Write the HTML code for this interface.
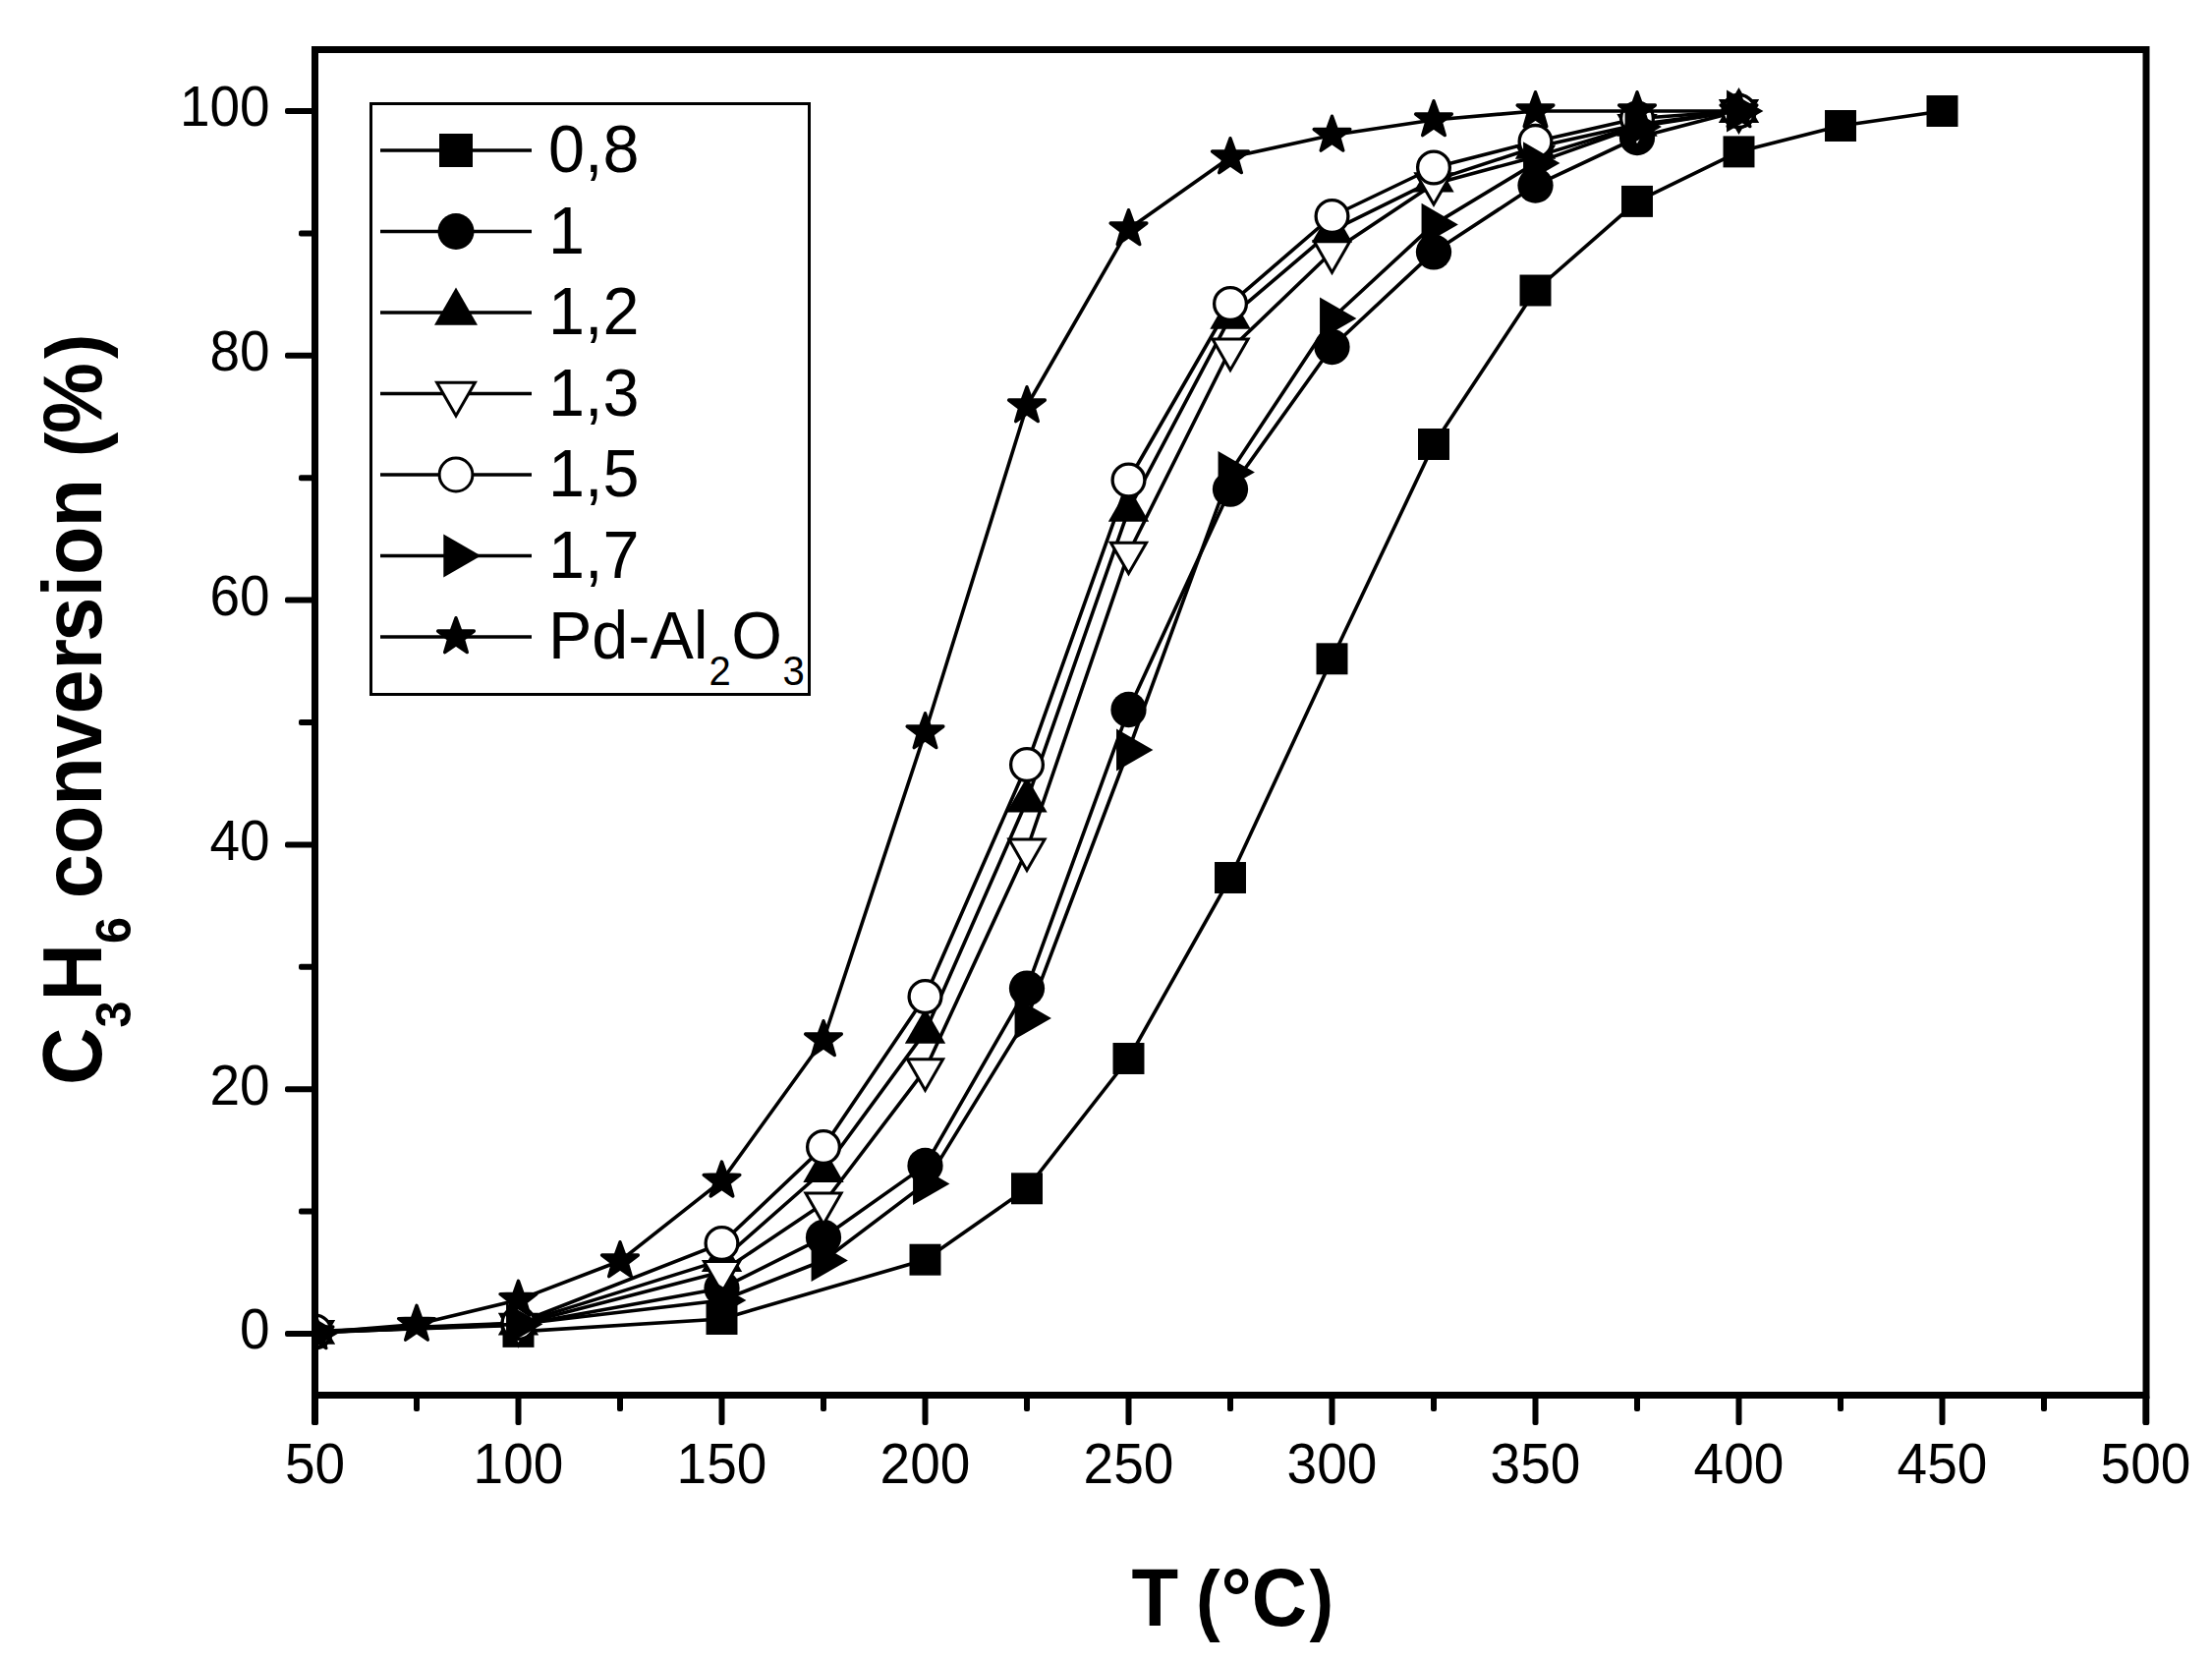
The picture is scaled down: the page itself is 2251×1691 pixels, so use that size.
<!DOCTYPE html>
<html lang="en"><head><meta charset="utf-8"><title>C3H6 conversion vs T</title>
<style>html,body{margin:0;padding:0;background:#fff}body{width:2251px;height:1691px;overflow:hidden}svg{display:block}text{font-family:"Liberation Sans",Arial,Helvetica,sans-serif;fill:#000}</style></head><body>
<svg width="2251" height="1691" viewBox="0 0 2251 1691">
<rect width="2251" height="1691" fill="#fff"/>
<defs><clipPath id="plot"><rect x="320.5" y="50.5" width="1863.5" height="1369.0"/></clipPath></defs>
<g clip-path="url(#plot)">
<polyline points="527.5,1354.9 734.5,1342 941.5,1281.7 1045,1209.3 1148.5,1077 1252,893 1355.5,670.3 1459,452 1562.5,295.5 1666,204.9 1769.5,154.4 1873,128 1976.5,113" fill="none" stroke="#000" stroke-width="3.6" stroke-linejoin="round"/>
<rect x="511.52" y="1338.92" width="31.96" height="31.96" fill="#000"/>
<rect x="718.52" y="1326.02" width="31.96" height="31.96" fill="#000"/>
<rect x="925.52" y="1265.72" width="31.96" height="31.96" fill="#000"/>
<rect x="1029.02" y="1193.32" width="31.96" height="31.96" fill="#000"/>
<rect x="1132.52" y="1061.02" width="31.96" height="31.96" fill="#000"/>
<rect x="1236.02" y="877.02" width="31.96" height="31.96" fill="#000"/>
<rect x="1339.52" y="654.32" width="31.96" height="31.96" fill="#000"/>
<rect x="1443.02" y="436.02" width="31.96" height="31.96" fill="#000"/>
<rect x="1546.52" y="279.52" width="31.96" height="31.96" fill="#000"/>
<rect x="1650.02" y="188.92" width="31.96" height="31.96" fill="#000"/>
<rect x="1753.52" y="138.42" width="31.96" height="31.96" fill="#000"/>
<rect x="1857.02" y="112.02" width="31.96" height="31.96" fill="#000"/>
<rect x="1960.52" y="97.02" width="31.96" height="31.96" fill="#000"/>
<polyline points="320.5,1355.5 527.5,1348.3 734.5,1310.7 838,1259 941.5,1185.9 1045,1005.6 1148.5,722 1252,497.7 1355.5,353 1459,256.4 1562.5,188.6 1666,140 1769.5,113" fill="none" stroke="#000" stroke-width="3.6" stroke-linejoin="round"/>
<circle cx="320.5" cy="1355.5" r="18.13" fill="#000"/>
<circle cx="527.5" cy="1348.3" r="18.13" fill="#000"/>
<circle cx="734.5" cy="1310.7" r="18.13" fill="#000"/>
<circle cx="838" cy="1259" r="18.13" fill="#000"/>
<circle cx="941.5" cy="1185.9" r="18.13" fill="#000"/>
<circle cx="1045" cy="1005.6" r="18.13" fill="#000"/>
<circle cx="1148.5" cy="722" r="18.13" fill="#000"/>
<circle cx="1252" cy="497.7" r="18.13" fill="#000"/>
<circle cx="1355.5" cy="353" r="18.13" fill="#000"/>
<circle cx="1459" cy="256.4" r="18.13" fill="#000"/>
<circle cx="1562.5" cy="188.6" r="18.13" fill="#000"/>
<circle cx="1666" cy="140" r="18.13" fill="#000"/>
<circle cx="1769.5" cy="113" r="18.13" fill="#000"/>
<polyline points="320.5,1355.7 527.5,1346.6 734.5,1282.1 838,1191 941.5,1049.9 1045,814.5 1148.5,518.7 1252,322.7 1355.5,234.7 1459,183.6 1562.5,149.7 1666,126.7 1769.5,113" fill="none" stroke="#000" stroke-width="3.6" stroke-linejoin="round"/>
<polygon points="320.5,1331.82 341.18,1367.64 299.82,1367.64" fill="#000"/>
<polygon points="527.5,1322.72 548.18,1358.54 506.82,1358.54" fill="#000"/>
<polygon points="734.5,1258.22 755.18,1294.04 713.82,1294.04" fill="#000"/>
<polygon points="838,1167.12 858.68,1202.94 817.32,1202.94" fill="#000"/>
<polygon points="941.5,1026.02 962.18,1061.84 920.82,1061.84" fill="#000"/>
<polygon points="1045,790.62 1065.68,826.44 1024.32,826.44" fill="#000"/>
<polygon points="1148.5,494.82 1169.18,530.64 1127.82,530.64" fill="#000"/>
<polygon points="1252,298.82 1272.68,334.64 1231.32,334.64" fill="#000"/>
<polygon points="1355.5,210.82 1376.18,246.64 1334.82,246.64" fill="#000"/>
<polygon points="1459,159.72 1479.68,195.54 1438.32,195.54" fill="#000"/>
<polygon points="1562.5,125.82 1583.18,161.64 1541.82,161.64" fill="#000"/>
<polygon points="1666,102.82 1686.68,138.64 1645.32,138.64" fill="#000"/>
<polygon points="1769.5,89.12 1790.18,124.94 1748.82,124.94" fill="#000"/>
<polyline points="320.5,1355 527.5,1347.8 734.5,1294 838,1224.5 941.5,1088.3 1045,864.5 1148.5,562.7 1252,355.5 1355.5,256.3 1459,187.2 1562.5,159.4 1666,128 1769.5,113" fill="none" stroke="#000" stroke-width="3.6" stroke-linejoin="round"/>
<polygon points="320.5,1375.88 338.58,1344.56 302.42,1344.56" fill="#fff" stroke="#000" stroke-width="3.0" stroke-linejoin="miter"/>
<polygon points="527.5,1368.68 545.58,1337.36 509.42,1337.36" fill="#fff" stroke="#000" stroke-width="3.0" stroke-linejoin="miter"/>
<polygon points="734.5,1314.88 752.58,1283.56 716.42,1283.56" fill="#fff" stroke="#000" stroke-width="3.0" stroke-linejoin="miter"/>
<polygon points="838,1245.38 856.08,1214.06 819.92,1214.06" fill="#fff" stroke="#000" stroke-width="3.0" stroke-linejoin="miter"/>
<polygon points="941.5,1109.18 959.58,1077.86 923.42,1077.86" fill="#fff" stroke="#000" stroke-width="3.0" stroke-linejoin="miter"/>
<polygon points="1045,885.38 1063.08,854.06 1026.92,854.06" fill="#fff" stroke="#000" stroke-width="3.0" stroke-linejoin="miter"/>
<polygon points="1148.5,583.58 1166.58,552.26 1130.42,552.26" fill="#fff" stroke="#000" stroke-width="3.0" stroke-linejoin="miter"/>
<polygon points="1252,376.38 1270.08,345.06 1233.92,345.06" fill="#fff" stroke="#000" stroke-width="3.0" stroke-linejoin="miter"/>
<polygon points="1355.5,277.18 1373.58,245.86 1337.42,245.86" fill="#fff" stroke="#000" stroke-width="3.0" stroke-linejoin="miter"/>
<polygon points="1459,208.08 1477.08,176.76 1440.92,176.76" fill="#fff" stroke="#000" stroke-width="3.0" stroke-linejoin="miter"/>
<polygon points="1562.5,180.28 1580.58,148.96 1544.42,148.96" fill="#fff" stroke="#000" stroke-width="3.0" stroke-linejoin="miter"/>
<polygon points="1666,148.88 1684.08,117.56 1647.92,117.56" fill="#fff" stroke="#000" stroke-width="3.0" stroke-linejoin="miter"/>
<polygon points="1769.5,133.88 1787.58,102.56 1751.42,102.56" fill="#fff" stroke="#000" stroke-width="3.0" stroke-linejoin="miter"/>
<polyline points="320.5,1354.5 527.5,1346 734.5,1265 838,1167 941.5,1014 1045,778 1148.5,488.5 1252,309 1355.5,220 1459,170.5 1562.5,143.9 1666,120.5 1769.5,113" fill="none" stroke="#000" stroke-width="3.6" stroke-linejoin="round"/>
<circle cx="320.5" cy="1354.5" r="16.38" fill="#fff" stroke="#000" stroke-width="3.3"/>
<circle cx="527.5" cy="1346" r="16.38" fill="#fff" stroke="#000" stroke-width="3.3"/>
<circle cx="734.5" cy="1265" r="16.38" fill="#fff" stroke="#000" stroke-width="3.3"/>
<circle cx="838" cy="1167" r="16.38" fill="#fff" stroke="#000" stroke-width="3.3"/>
<circle cx="941.5" cy="1014" r="16.38" fill="#fff" stroke="#000" stroke-width="3.3"/>
<circle cx="1045" cy="778" r="16.38" fill="#fff" stroke="#000" stroke-width="3.3"/>
<circle cx="1148.5" cy="488.5" r="16.38" fill="#fff" stroke="#000" stroke-width="3.3"/>
<circle cx="1252" cy="309" r="16.38" fill="#fff" stroke="#000" stroke-width="3.3"/>
<circle cx="1355.5" cy="220" r="16.38" fill="#fff" stroke="#000" stroke-width="3.3"/>
<circle cx="1459" cy="170.5" r="16.38" fill="#fff" stroke="#000" stroke-width="3.3"/>
<circle cx="1562.5" cy="143.9" r="16.38" fill="#fff" stroke="#000" stroke-width="3.3"/>
<circle cx="1666" cy="120.5" r="16.38" fill="#fff" stroke="#000" stroke-width="3.3"/>
<circle cx="1769.5" cy="113" r="16.38" fill="#fff" stroke="#000" stroke-width="3.3"/>
<polyline points="320.5,1356 527.5,1347.3 734.5,1323 838,1282.5 941.5,1204.4 1045,1036 1148.5,763 1252,480.5 1355.5,324 1459,228.4 1562.5,165.9 1666,129 1769.5,113" fill="none" stroke="#000" stroke-width="3.6" stroke-linejoin="round"/>
<polygon points="345.4,1356 308.05,1334.44 308.05,1377.56" fill="#000"/>
<polygon points="552.4,1347.3 515.05,1325.74 515.05,1368.86" fill="#000"/>
<polygon points="759.4,1323 722.05,1301.44 722.05,1344.56" fill="#000"/>
<polygon points="862.9,1282.5 825.55,1260.94 825.55,1304.06" fill="#000"/>
<polygon points="966.4,1204.4 929.05,1182.84 929.05,1225.96" fill="#000"/>
<polygon points="1069.9,1036 1032.55,1014.44 1032.55,1057.56" fill="#000"/>
<polygon points="1173.4,763 1136.05,741.44 1136.05,784.56" fill="#000"/>
<polygon points="1276.9,480.5 1239.55,458.94 1239.55,502.06" fill="#000"/>
<polygon points="1380.4,324 1343.05,302.44 1343.05,345.56" fill="#000"/>
<polygon points="1483.9,228.4 1446.55,206.84 1446.55,249.96" fill="#000"/>
<polygon points="1587.4,165.9 1550.05,144.34 1550.05,187.46" fill="#000"/>
<polygon points="1690.9,129 1653.55,107.44 1653.55,150.56" fill="#000"/>
<polygon points="1794.4,113 1757.05,91.44 1757.05,134.56" fill="#000"/>
<polyline points="320.5,1356 424,1347.6 527.5,1322.6 631,1283 734.5,1201.4 838,1058 941.5,745 1045,413 1148.5,233 1252,160 1355.5,137.5 1459,122 1562.5,113 1666,113 1769.5,113" fill="none" stroke="#000" stroke-width="3.6" stroke-linejoin="round"/>
<polygon points="320.5,1336.7 325.11,1349.65 338.86,1350.04 327.97,1358.43 331.84,1371.61 320.5,1363.85 309.16,1371.61 313.03,1358.43 302.14,1350.04 315.89,1349.65" fill="#000" stroke="#000" stroke-width="3.4" stroke-linejoin="round"/>
<polygon points="424,1328.3 428.61,1341.25 442.36,1341.64 431.47,1350.03 435.34,1363.21 424,1355.45 412.66,1363.21 416.53,1350.03 405.64,1341.64 419.39,1341.25" fill="#000" stroke="#000" stroke-width="3.4" stroke-linejoin="round"/>
<polygon points="527.5,1303.3 532.11,1316.25 545.86,1316.64 534.97,1325.03 538.84,1338.21 527.5,1330.45 516.16,1338.21 520.03,1325.03 509.14,1316.64 522.89,1316.25" fill="#000" stroke="#000" stroke-width="3.4" stroke-linejoin="round"/>
<polygon points="631,1263.7 635.61,1276.65 649.36,1277.04 638.47,1285.43 642.34,1298.61 631,1290.85 619.66,1298.61 623.53,1285.43 612.64,1277.04 626.39,1276.65" fill="#000" stroke="#000" stroke-width="3.4" stroke-linejoin="round"/>
<polygon points="734.5,1182.1 739.11,1195.05 752.86,1195.44 741.97,1203.83 745.84,1217.01 734.5,1209.25 723.16,1217.01 727.03,1203.83 716.14,1195.44 729.89,1195.05" fill="#000" stroke="#000" stroke-width="3.4" stroke-linejoin="round"/>
<polygon points="838,1038.7 842.61,1051.65 856.36,1052.04 845.47,1060.43 849.34,1073.61 838,1065.85 826.66,1073.61 830.53,1060.43 819.64,1052.04 833.39,1051.65" fill="#000" stroke="#000" stroke-width="3.4" stroke-linejoin="round"/>
<polygon points="941.5,725.7 946.11,738.65 959.86,739.04 948.97,747.43 952.84,760.61 941.5,752.85 930.16,760.61 934.03,747.43 923.14,739.04 936.89,738.65" fill="#000" stroke="#000" stroke-width="3.4" stroke-linejoin="round"/>
<polygon points="1045,393.7 1049.61,406.65 1063.36,407.04 1052.47,415.43 1056.34,428.61 1045,420.85 1033.66,428.61 1037.53,415.43 1026.64,407.04 1040.39,406.65" fill="#000" stroke="#000" stroke-width="3.4" stroke-linejoin="round"/>
<polygon points="1148.5,213.7 1153.11,226.65 1166.86,227.04 1155.97,235.43 1159.84,248.61 1148.5,240.85 1137.16,248.61 1141.03,235.43 1130.14,227.04 1143.89,226.65" fill="#000" stroke="#000" stroke-width="3.4" stroke-linejoin="round"/>
<polygon points="1252,140.7 1256.61,153.65 1270.36,154.04 1259.47,162.43 1263.34,175.61 1252,167.85 1240.66,175.61 1244.53,162.43 1233.64,154.04 1247.39,153.65" fill="#000" stroke="#000" stroke-width="3.4" stroke-linejoin="round"/>
<polygon points="1355.5,118.2 1360.11,131.15 1373.86,131.54 1362.97,139.93 1366.84,153.11 1355.5,145.35 1344.16,153.11 1348.03,139.93 1337.14,131.54 1350.89,131.15" fill="#000" stroke="#000" stroke-width="3.4" stroke-linejoin="round"/>
<polygon points="1459,102.7 1463.61,115.65 1477.36,116.04 1466.47,124.43 1470.34,137.61 1459,129.85 1447.66,137.61 1451.53,124.43 1440.64,116.04 1454.39,115.65" fill="#000" stroke="#000" stroke-width="3.4" stroke-linejoin="round"/>
<polygon points="1562.5,93.7 1567.11,106.65 1580.86,107.04 1569.97,115.43 1573.84,128.61 1562.5,120.85 1551.16,128.61 1555.03,115.43 1544.14,107.04 1557.89,106.65" fill="#000" stroke="#000" stroke-width="3.4" stroke-linejoin="round"/>
<polygon points="1666,93.7 1670.61,106.65 1684.36,107.04 1673.47,115.43 1677.34,128.61 1666,120.85 1654.66,128.61 1658.53,115.43 1647.64,107.04 1661.39,106.65" fill="#000" stroke="#000" stroke-width="3.4" stroke-linejoin="round"/>
<polygon points="1769.5,93.7 1774.11,106.65 1787.86,107.04 1776.97,115.43 1780.84,128.61 1769.5,120.85 1758.16,128.61 1762.03,115.43 1751.14,107.04 1764.89,106.65" fill="#000" stroke="#000" stroke-width="3.4" stroke-linejoin="round"/>
</g>
<rect x="320.5" y="50.5" width="1863.5" height="1369.0" fill="none" stroke="#000" stroke-width="7"/>
<rect x="317.5" y="1420" width="6" height="30" rx="2" fill="#000"/>
<rect x="421" y="1420" width="6" height="16" rx="2" fill="#000"/>
<rect x="524.5" y="1420" width="6" height="30" rx="2" fill="#000"/>
<rect x="628" y="1420" width="6" height="16" rx="2" fill="#000"/>
<rect x="731.5" y="1420" width="6" height="30" rx="2" fill="#000"/>
<rect x="835" y="1420" width="6" height="16" rx="2" fill="#000"/>
<rect x="938.5" y="1420" width="6" height="30" rx="2" fill="#000"/>
<rect x="1042" y="1420" width="6" height="16" rx="2" fill="#000"/>
<rect x="1145.5" y="1420" width="6" height="30" rx="2" fill="#000"/>
<rect x="1249" y="1420" width="6" height="16" rx="2" fill="#000"/>
<rect x="1352.5" y="1420" width="6" height="30" rx="2" fill="#000"/>
<rect x="1456" y="1420" width="6" height="16" rx="2" fill="#000"/>
<rect x="1559.5" y="1420" width="6" height="30" rx="2" fill="#000"/>
<rect x="1663" y="1420" width="6" height="16" rx="2" fill="#000"/>
<rect x="1766.5" y="1420" width="6" height="30" rx="2" fill="#000"/>
<rect x="1870" y="1420" width="6" height="16" rx="2" fill="#000"/>
<rect x="1973.5" y="1420" width="6" height="30" rx="2" fill="#000"/>
<rect x="2077" y="1420" width="6" height="16" rx="2" fill="#000"/>
<rect x="2180.5" y="1420" width="6" height="30" rx="2" fill="#000"/>
<rect x="317" y="1419" width="7" height="31" rx="2" fill="#000"/>
<rect x="2180.7" y="1419" width="6.6" height="31" rx="2" fill="#000"/>
<rect x="290" y="1354" width="30" height="6" rx="2" fill="#000"/>
<rect x="304" y="1229.6" width="16" height="6" rx="2" fill="#000"/>
<rect x="290" y="1105.2" width="30" height="6" rx="2" fill="#000"/>
<rect x="304" y="980.8" width="16" height="6" rx="2" fill="#000"/>
<rect x="290" y="856.4" width="30" height="6" rx="2" fill="#000"/>
<rect x="304" y="732" width="16" height="6" rx="2" fill="#000"/>
<rect x="290" y="607.6" width="30" height="6" rx="2" fill="#000"/>
<rect x="304" y="483.2" width="16" height="6" rx="2" fill="#000"/>
<rect x="290" y="358.8" width="30" height="6" rx="2" fill="#000"/>
<rect x="304" y="234.4" width="16" height="6" rx="2" fill="#000"/>
<rect x="290" y="110" width="30" height="6" rx="2" fill="#000"/>
<g font-size="55" text-anchor="middle">
<text transform="translate(320.5 1509.3) scale(1 1.045)">50</text>
<text transform="translate(527.5 1509.3) scale(1 1.045)">100</text>
<text transform="translate(734.5 1509.3) scale(1 1.045)">150</text>
<text transform="translate(941.5 1509.3) scale(1 1.045)">200</text>
<text transform="translate(1148.5 1509.3) scale(1 1.045)">250</text>
<text transform="translate(1355.5 1509.3) scale(1 1.045)">300</text>
<text transform="translate(1562.5 1509.3) scale(1 1.045)">350</text>
<text transform="translate(1769.5 1509.3) scale(1 1.045)">400</text>
<text transform="translate(1976.5 1509.3) scale(1 1.045)">450</text>
<text transform="translate(2183.5 1509.3) scale(1 1.045)">500</text>
</g>
<g font-size="55" text-anchor="end">
<text transform="translate(274.7 1372.4) scale(1 1.045)">0</text>
<text transform="translate(274.7 1123.6) scale(1 1.045)">20</text>
<text transform="translate(274.7 874.8) scale(1 1.045)">40</text>
<text transform="translate(274.7 626) scale(1 1.045)">60</text>
<text transform="translate(274.7 377.2) scale(1 1.045)">80</text>
<text transform="translate(274.7 128.4) scale(1 1.045)">100</text>
</g>
<text transform="translate(0 1654) scale(1 1.07)" font-size="78" font-weight="bold"><tspan x="1151.5">T</tspan><tspan x="1194.4"> </tspan><tspan x="1217.1" font-size="74">(</tspan><tspan x="1242.5">°</tspan><tspan x="1273.8">C</tspan><tspan x="1332.5" font-size="74">)</tspan></text>
<text transform="translate(103.4 1104) rotate(-90) scale(1 1.045)" font-size="81" font-weight="bold">C<tspan font-size="48.6" dy="28.7">3</tspan><tspan dy="-28.7">H</tspan><tspan font-size="48.6" dy="28.7">6</tspan><tspan dy="-28.7"> </tspan><tspan dx="-3.7">c</tspan>on<tspan dx="-1.5">v</tspan>er<tspan dx="-2.6">s</tspan>io<tspan dx="-0.9">n</tspan> <tspan dx="-0.6" font-size="76">(</tspan><tspan dx="-1.3">%</tspan><tspan dx="4.1" font-size="76">)</tspan></text>
<rect x="377.5" y="105.5" width="446" height="601" fill="#fff" stroke="#000" stroke-width="3"/>
<line x1="387" y1="153" x2="541" y2="153" stroke="#000" stroke-width="3.6"/>
<rect x="447" y="136" width="34" height="34" fill="#000"/>
<text transform="translate(558 175.4) scale(1 1.04)" font-size="66.5">0,8</text>
<line x1="387" y1="235.5" x2="541" y2="235.5" stroke="#000" stroke-width="3.6"/>
<circle cx="464" cy="235.5" r="18.5" fill="#000"/>
<text transform="translate(558 257.9) scale(1 1.04)" font-size="66.5">1</text>
<line x1="387" y1="318" x2="541" y2="318" stroke="#000" stroke-width="3.6"/>
<polygon points="464,292.6 486,330.7 442,330.7" fill="#000"/>
<text transform="translate(558 340.4) scale(1 1.04)" font-size="66.5">1,2</text>
<line x1="387" y1="400.5" x2="541" y2="400.5" stroke="#000" stroke-width="3.6"/>
<polygon points="464,422.9 483.4,389.3 444.6,389.3" fill="#fff" stroke="#000" stroke-width="3.0" stroke-linejoin="miter"/>
<text transform="translate(558 422.9) scale(1 1.04)" font-size="66.5">1,3</text>
<line x1="387" y1="483" x2="541" y2="483" stroke="#000" stroke-width="3.6"/>
<circle cx="464" cy="483" r="16.9" fill="#fff" stroke="#000" stroke-width="3.0"/>
<text transform="translate(558 505.4) scale(1 1.04)" font-size="66.5">1,5</text>
<line x1="387" y1="565.5" x2="541" y2="565.5" stroke="#000" stroke-width="3.6"/>
<polygon points="489.4,565.5 451.3,543.5 451.3,587.5" fill="#000"/>
<text transform="translate(558 587.9) scale(1 1.04)" font-size="66.5">1,7</text>
<line x1="387" y1="648" x2="541" y2="648" stroke="#000" stroke-width="3.6"/>
<polygon points="464,628.7 468.61,641.65 482.36,642.04 471.47,650.43 475.34,663.61 464,655.85 452.66,663.61 456.53,650.43 445.64,642.04 459.39,641.65" fill="#000" stroke="#000" stroke-width="3.4" stroke-linejoin="round"/>
<text transform="translate(558 670.4) scale(1 1.04)" font-size="66.5">Pd-Al<tspan font-size="40" dy="25.4" dx="1">2</tspan><tspan dy="-25.4" dx="0.5">O</tspan><tspan font-size="40" dy="25.4" dx="0.5">3</tspan></text>
</svg></body></html>
